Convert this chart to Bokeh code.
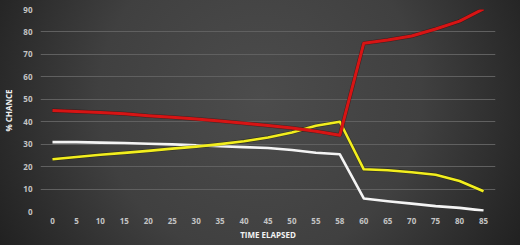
from bokeh.plotting import figure
from bokeh.models import FactorRange, Range1d, FixedTicker
from bokeh.embed import file_html
from bokeh.resources import INLINE

times = ["0", "5", "10", "15", "20", "25", "30", "35", "40", "45", "50", "55", "58",
         "60", "65", "70", "75", "80", "85"]
red_vals = [45, 44.6, 44.1, 43.5, 42.7, 42.0, 41.2, 40.3, 39.3, 38.3, 37.2, 35.8, 34.0,
            75.0, 76.4, 78.2, 81.3, 84.8, 90.3]
yellow_vals = [23.3, 24.3, 25.3, 26.1, 27.0, 28.0, 28.9, 30.0, 31.3, 33.0, 35.2, 38.2, 40.0,
               18.8, 18.4, 17.5, 16.4, 13.6, 9.0]
white_vals = [30.9, 30.9, 30.7, 30.5, 30.2, 29.9, 29.5, 29.1, 28.7, 28.3, 27.4, 26.2, 25.5,
              5.8, 4.6, 3.5, 2.4, 1.6, 0.4]
y_ticks = [0, 10, 20, 30, 40, 50, 60, 70, 80, 90]

p = figure(width=520, height=245, x_range=FactorRange(factors=times, range_padding=0),
           y_range=Range1d(0, 90), output_backend="svg", toolbar_location=None,
           min_border_left=39, min_border_right=25, min_border_top=9, min_border_bottom=34)

p.background_fill_alpha = 0
p.border_fill_alpha = 0
p.outline_line_color = None
p.styles = {"background": "radial-gradient(ellipse 62% 130% at 50% 40%, #4c4c4c 0%, #404040 50%, #2a2a2a 80%, #1c1c1c 100%)"}

p.xgrid.grid_line_color = None
p.ygrid.grid_line_color = "#606060"
p.ygrid.grid_line_width = 1

font = "Open Sans"
for ax in (p.xaxis[0], p.yaxis[0]):
    ax.axis_line_color = None
    ax.major_tick_line_color = None
    ax.minor_tick_line_color = None
    ax.major_label_text_color = "#c4c4c4"
    ax.major_label_text_font = font
    ax.major_label_text_font_size = "8px"
    ax.major_label_text_font_style = "bold"
    ax.axis_label_text_color = "#f2f2f2"
    ax.axis_label_text_font = font
    ax.axis_label_text_font_size = "8px"
    ax.axis_label_text_font_style = "bold"
    ax.major_tick_out = 0
    ax.major_tick_in = 0

p.yaxis.ticker = FixedTicker(ticks=y_ticks)
p.xaxis.axis_label = "TIME ELAPSED"
p.yaxis.axis_label = "% CHANCE"
p.xaxis.major_label_standoff = 6
p.xaxis.axis_label_standoff = 2
p.yaxis.major_label_standoff = 8
p.yaxis.axis_label_standoff = 6

p.line(times, white_vals, line_color="#f4f4f4", line_width=2.6, line_join="round")
p.line(times, yellow_vals, line_color="#1e1e00", line_width=3.8, line_alpha=0.5)
p.line(times, yellow_vals, line_color="#f2ee1e", line_width=2.6, line_join="round")
p.line(times, red_vals, line_color="#3a0000", line_width=4.0, line_alpha=0.5)
p.line(times, red_vals, line_color="#d71414", line_width=3.0, line_join="round")

open("out.html", "w").write(file_html(p, INLINE))
